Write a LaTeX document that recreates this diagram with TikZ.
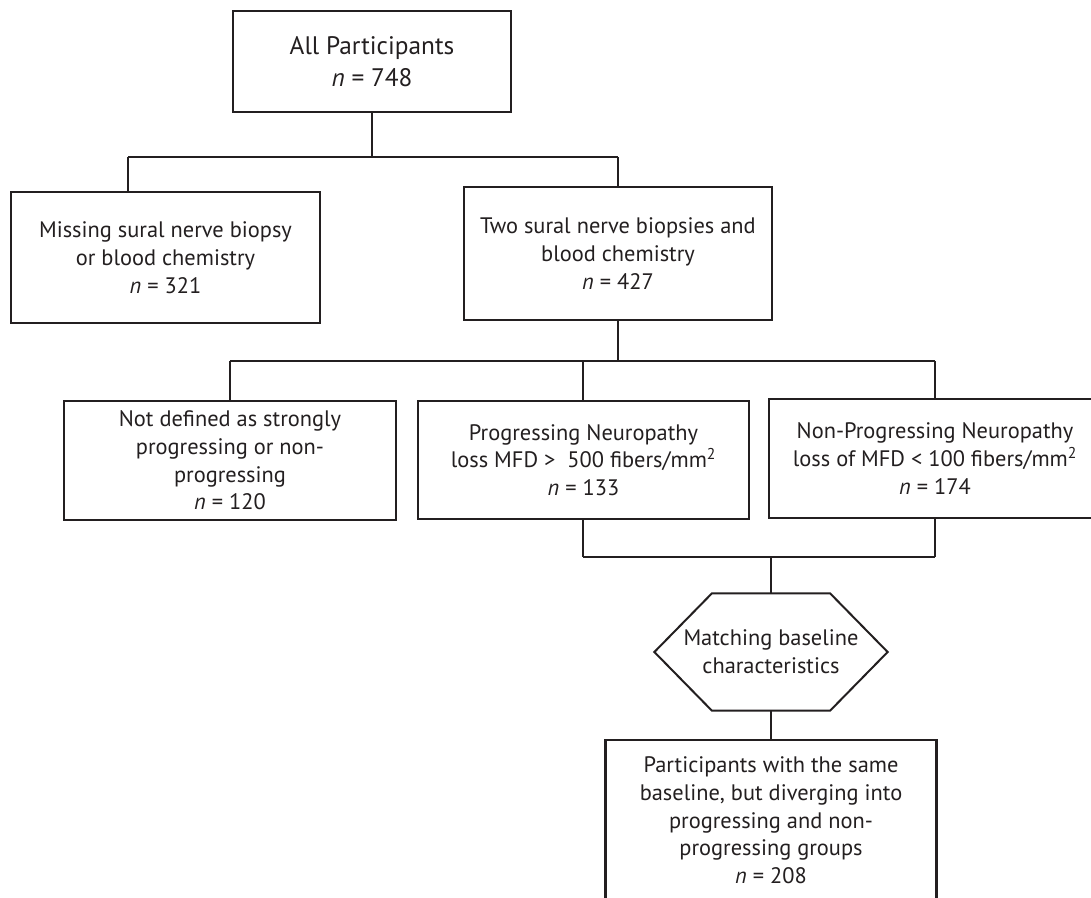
\documentclass[tikz,border=0pt]{standalone}
\usepackage{fontspec}
\setmainfont{PT Sans}
\usetikzlibrary{calc}
\definecolor{ink}{HTML}{231F20}
\begin{document}
\begin{tikzpicture}[x=0.75pt,y=-0.75pt,
  box/.style={draw=ink, line width=1.7pt, rectangle, align=center, inner sep=0pt, text=ink,
    font=\fontsize{16.8}{20.8}\selectfont},
  link/.style={draw=ink, line width=1.5pt}]
\useasboundingbox (0,0) rectangle (1091,897);
\clip (0,0) rectangle (1091,897);
\fill[white] (0,0) rectangle (1091,897);

\node (top) [box, minimum width=208.5pt, minimum height=75.75pt,
  font=\fontsize{19}{24}\selectfont] at (372,61.5)
  {All Participants\\\textit{n} = 748};

\node (miss) [box, minimum width=231.75pt, minimum height=98.25pt] at (165.5,257.5)
  {Missing sural nerve biopsy\\or blood chemistry\\\textit{n} = 321};
\node (two) [box, minimum width=231pt, minimum height=99.75pt] at (618,253.5)
  {Two sural nerve biopsies and\\blood chemistry\\\textit{n} = 427};

\node (notdef) [box, minimum width=249pt, minimum height=89.25pt] at (230,460.5)
  {Not defined as strongly\\progressing or non-\\progressing\\\textit{n} = 120};
\node (prog) [box, minimum width=248.25pt, minimum height=88.5pt] at (583.5,460)
  {Progressing Neuropathy\\loss MFD >~ 500 fibers/mm\textsuperscript{2}\\\textit{n} = 133};
\node (nonprog) [box, minimum width=249pt, minimum height=89.25pt] at (935,458.5)
  {Non-Progressing Neuropathy\\loss of MFD < 100 fibers/mm\textsuperscript{2}\\\textit{n} = 174};

\node (hex) [box, draw=none, minimum width=173.25pt, minimum height=86.25pt] at (771,652)
  {Matching baseline\\characteristics};
\draw[link] ($(hex.north west)+(57.5,0)$) -- ($(hex.north east)+(-57.5,0)$) -- (hex.east)
  -- ($(hex.south east)+(-57.5,0)$) -- ($(hex.south west)+(57.5,0)$) -- (hex.west) -- cycle;

\node (final) [box, anchor=north, minimum width=248.25pt, inner ysep=12.5pt] at (771,739)
  {Participants with the same\\baseline, but diverging into\\progressing and non-\\progressing groups\\\textit{n} = 208};

% connectors
\coordinate (j1) at (372,157);
\coordinate (j1l) at (128,157);
\coordinate (j1r) at (618,157);
\draw[link] (top.south) -- (j1);
\draw[link] (j1l) -- (j1r);
\draw[link] (j1l) -- (j1l |- miss.north);
\draw[link] (j1r) -- (two.north);

\coordinate (j2) at (618,361);
\coordinate (j2l) at (230,361);
\coordinate (j2m) at (583,361);
\coordinate (j2r) at (935,361);
\draw[link] (two.south) -- (j2);
\draw[link] (j2l) -- (j2r);
\draw[link] (j2l) -- (notdef.north);
\draw[link] (j2m) -- (j2m |- prog.north);
\draw[link] (j2r) -- (nonprog.north);

\coordinate (j3l) at (583,557);
\coordinate (j3r) at (935,557);
\coordinate (j3) at (771,557);
\draw[link] (prog.south -| j3l) -- (j3l);
\draw[link] (nonprog.south) -- (j3r);
\draw[link] (j3l) -- (j3r);
\draw[link] (j3) -- (hex.north);
\draw[link] (hex.south) -- (final.north);
\end{tikzpicture}
\end{document}
